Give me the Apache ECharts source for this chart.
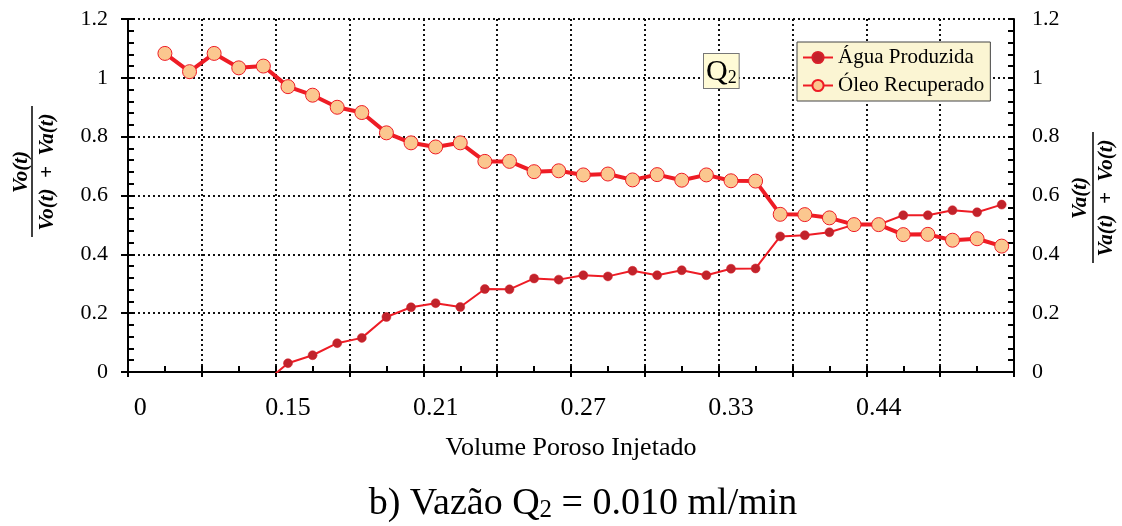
<!DOCTYPE html>
<html>
<head>
<meta charset="utf-8">
<script src="https://cdn.jsdelivr.net/npm/echarts@6/dist/echarts.min.js"></script>
<style>
  html, body { margin: 0; padding: 0; background: #fff; }
  #chart { width: 1122px; height: 526px; }
</style>
</head>
<body>
<div id="chart"></div>
<script>
"use strict";
// tick labels shown under the x axis (one every 6 categories)
var xTickLabels = ["0", "0.15", "0.21", "0.27", "0.33", "0.44"];
var categoryCount = 36;

// Água Produzida: Va(t) / (Va(t) + Vo(t))
var aguaProduzida = [null, null, null, null, null, -0.04,
  0.03, 0.057, 0.098, 0.116, 0.187, 0.22, 0.234, 0.221, 0.282, 0.281,
  0.318, 0.314, 0.329, 0.325, 0.344, 0.329, 0.346, 0.329, 0.351, 0.352,
  0.461, 0.465, 0.475, 0.501, 0.501, 0.533, 0.533, 0.55, 0.543, 0.569];

// Óleo Recuperado: Vo(t) / (Vo(t) + Va(t))
var oleoRecuperado = [null, 1.083, 1.021, 1.083, 1.034, 1.04,
  0.97, 0.941, 0.9, 0.882, 0.813, 0.779, 0.765, 0.779, 0.716, 0.716,
  0.681, 0.684, 0.67, 0.673, 0.653, 0.671, 0.652, 0.67, 0.65, 0.649,
  0.536, 0.535, 0.524, 0.501, 0.501, 0.467, 0.468, 0.448, 0.453, 0.428];

var categories = [];
for (var i = 0; i < categoryCount; i++) {
  categories.push(i % 6 === 0 ? xTickLabels[i / 6] : "");
}

var serif = '"Liberation Serif", "Times New Roman", serif';
var red = "#ee1c25";
var dotted = { color: "#111", width: 2, type: [2, 3] };
var black = { color: "#000", width: 2 };

var chart = echarts.init(document.getElementById("chart"));

// rotated fraction used as y axis title
function fraction(x, y, num, den, numOff, denOff) {
  var font = 'italic bold 21px ' + serif;
  return {
    type: "group",
    x: x,
    y: y,
    rotation: Math.PI / 2,
    children: [
      { type: "text", x: 0, y: numOff, style: { text: num, font: font, align: "center", verticalAlign: "middle", fill: "#000" } },
      { type: "line", shape: { x1: -65, y1: 0, x2: 66, y2: 0 }, style: { stroke: "#000", lineWidth: 1.5 } },
      { type: "text", x: 0, y: denOff, style: { text: den, font: font, align: "center", verticalAlign: "middle", fill: "#000" } }
    ]
  };
}

var option = {
  animation: false,
  grid: { left: 128, right: 108, top: 19, bottom: 154, outerBoundsMode: "none" },
  legend: {
    left: 797,
    top: 42,
    orient: "vertical",
    backgroundColor: "#fbf5d3",
    borderColor: "#444",
    borderWidth: 1,
    padding: [5, 6, 5, 5],
    itemGap: 7,
    itemWidth: 30,
    itemHeight: 14,
    textStyle: { fontFamily: serif, fontSize: 21, color: "#000" },
    data: ["Água Produzida", "Óleo Recuperado"]
  },
  xAxis: [
    {
      type: "category",
      data: categories,
      boundaryGap: true,
      position: "bottom",
      axisLine: { show: false },
      axisTick: { show: false },
      splitLine: { show: false },
      axisLabel: { interval: 0, margin: 23, fontSize: 26, fontFamily: serif, color: "#000" },
      name: "Volume Poroso Injetado",
      nameLocation: "middle",
      nameGap: 63,
      nameTextStyle: { fontSize: 26, fontFamily: serif, color: "#000" }
    },
    {
      type: "value", min: 0, max: 12, interval: 1, position: "bottom",
      axisLine: { show: true, onZero: false, lineStyle: black },
      axisTick: { show: true, inside: true, length: 6, lineStyle: black },
      minorTick: { show: true, splitNumber: 2, length: 6, lineStyle: black },
      axisLabel: { show: false },
      splitLine: { show: true, lineStyle: dotted }
    },
    {
      type: "value", min: 0, max: 12, interval: 1, position: "bottom",
      axisLine: { show: false },
      axisTick: { show: true, inside: false, length: 5, lineStyle: black },
      axisLabel: { show: false },
      splitLine: { show: false }
    }
  ],
  yAxis: [
    {
      type: "value", min: 0, max: 1.2, interval: 0.2, position: "left",
      axisLine: { show: true, onZero: false, lineStyle: black },
      axisTick: { show: true, inside: true, length: 6, lineStyle: black },
      minorTick: { show: true, splitNumber: 5, length: 6, lineStyle: black },
      axisLabel: { margin: 20, fontSize: 22, fontFamily: serif, color: "#000" },
      splitLine: { show: true, lineStyle: dotted }
    },
    {
      type: "value", min: 0, max: 1.2, interval: 0.2, position: "right",
      axisLine: { show: true, onZero: false, lineStyle: black },
      axisTick: { show: true, inside: true, length: 6, lineStyle: black },
      minorTick: { show: true, splitNumber: 5, length: 6, lineStyle: black },
      axisLabel: { margin: 18, fontSize: 22, fontFamily: serif, color: "#000" },
      splitLine: { show: false }
    },
    {
      type: "value", min: 0, max: 1.2, interval: 0.2, position: "left",
      axisLine: { show: false },
      axisTick: { show: true, inside: false, length: 7, lineStyle: black },
      axisLabel: { show: false },
      splitLine: { show: false }
    },
    {
      type: "value", min: 0, max: 1.2, interval: 0.2, position: "right",
      axisLine: { show: false },
      axisTick: { show: true, inside: false, length: 7, lineStyle: black },
      axisLabel: { show: false },
      splitLine: { show: false }
    }
  ],
  series: [
    {
      name: "Água Produzida",
      type: "line",
      xAxisIndex: 0,
      yAxisIndex: 0,
      data: aguaProduzida,
      symbol: "circle",
      symbolSize: 9,
      lineStyle: { color: red, width: 2 },
      itemStyle: { color: "#c1232b", borderColor: "#d8202a", borderWidth: 0.5 },
      emphasis: { disabled: true }
    },
    {
      name: "Óleo Recuperado",
      type: "line",
      xAxisIndex: 0,
      yAxisIndex: 0,
      data: oleoRecuperado,
      symbol: "circle",
      symbolSize: 14,
      lineStyle: { color: red, width: 4 },
      itemStyle: { color: "#fbc78f", borderColor: red, borderWidth: 1 },
      emphasis: { disabled: true }
    }
  ],
  graphic: [
    fraction(32, 172, "Vo(t)", "Vo(t)  +  Va(t)", -10.5, 15.5),
    fraction(1093, 198, "Va(t)", "Va(t)  +  Vo(t)", -12, 14),
    {
      type: "text",
      left: 703,
      top: 53,
      z: 10,
      style: {
        text: "{q|Q}{s|2}",
        rich: {
          q: { fontSize: 30, fontFamily: serif, fill: "#000" },
          s: { fontSize: 18, fontFamily: serif, fill: "#000", verticalAlign: "bottom" }
        },
        backgroundColor: "#fffbd6",
        borderColor: "#777",
        borderWidth: 1,
        padding: [3, 2, 1, 2]
      }
    },
    {
      type: "text",
      x: 583,
      y: 504,
      style: {
        text: "{a|b) Vazão Q}{s|2}{a| = 0.010 ml/min}",
        align: "center",
        verticalAlign: "middle",
        rich: {
          a: { fontSize: 38, fontFamily: serif, fill: "#000" },
          s: { fontSize: 25, fontFamily: serif, fill: "#000", verticalAlign: "bottom" }
        }
      }
    }
  ]
};

chart.setOption(option);
</script>
</body>
</html>
